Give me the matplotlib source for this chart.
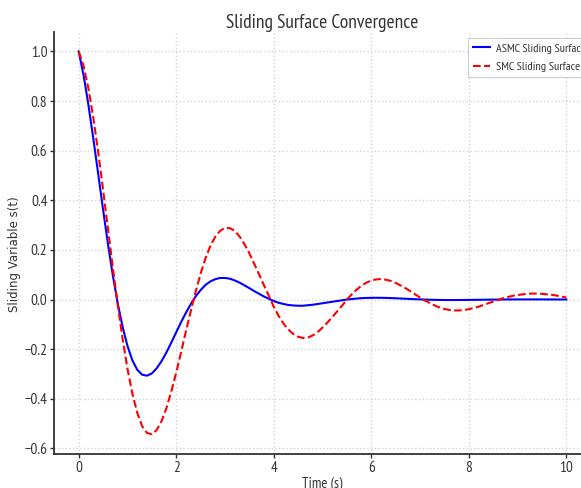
import matplotlib
matplotlib.use("Agg")
import matplotlib.pyplot as plt

# ---- data ----
time_s = [round(0.1 * i, 1) for i in range(101)]

asmc_surface = [
    1.000, 0.904, 0.784, 0.648, 0.506, 0.362, 0.224, 0.097, -0.015, -0.110,
    -0.187, -0.245, -0.283, -0.303, -0.307, -0.298, -0.277, -0.248, -0.213, -0.173,
    -0.132, -0.091, -0.053, -0.018, 0.013, 0.038, 0.059, 0.073, 0.082, 0.087,
    0.087, 0.084, 0.077, 0.068, 0.057, 0.046, 0.034, 0.023, 0.012, 0.003,
    -0.006, -0.013, -0.018, -0.022, -0.024, -0.025, -0.025, -0.023, -0.021, -0.018,
    -0.015, -0.012, -0.009, -0.006, -0.003, 0.000, 0.002, 0.004, 0.0055, 0.0064,
    0.0069, 0.0071, 0.0069, 0.0065, 0.0058, 0.0050, 0.0041, 0.0032, 0.0022, 0.0014,
    0.0005, -0.0002, -0.0008, -0.0013, -0.0017, -0.0019, -0.0020, -0.0020, -0.0019, -0.0018,
    -0.0016, -0.0014, -0.0011, -0.0008, -0.0005, -0.0003, 0.0000, 0.0001, 0.0003, 0.0004,
    0.0005, 0.0005, 0.0005, 0.0005, 0.0005, 0.0004, 0.0004, 0.0003, 0.0002, 0.0002,
    0.0001,
]

smc_surface = [
    1.000, 0.942, 0.850, 0.732, 0.594, 0.442, 0.285, 0.128, -0.021, -0.158,
    -0.279, -0.379, -0.456, -0.510, -0.538, -0.543, -0.526, -0.490, -0.437, -0.370,
    -0.294, -0.212, -0.127, -0.045, 0.033, 0.104, 0.166, 0.216, 0.253, 0.277,
    0.289, 0.288, 0.277, 0.254, 0.223, 0.186, 0.144, 0.101, 0.057, 0.015,
    -0.029, -0.066, -0.097, -0.121, -0.139, -0.150, -0.155, -0.153, -0.145, -0.131,
    -0.113, -0.093, -0.071, -0.048, -0.025, 0.000, 0.021, 0.040, 0.056, 0.068,
    0.077, 0.081, 0.083, 0.080, 0.075, 0.067, 0.057, 0.046, 0.034, 0.021,
    0.008, -0.004, -0.014, -0.024, -0.032, -0.038, -0.042, -0.044, -0.044, -0.042,
    -0.039, -0.034, -0.029, -0.022, -0.015, -0.008, -0.002, 0.005, 0.010, 0.015,
    0.018, 0.021, 0.023, 0.024, 0.024, 0.023, 0.021, 0.019, 0.016, 0.012,
    0.008,
]

series_labels = ["ASMC Sliding Surface", "SMC Sliding Surface"]
x_ticks = [0, 2, 4, 6, 8, 10]
y_ticks = [-0.6, -0.4, -0.2, 0.0, 0.2, 0.4, 0.6, 0.8, 1.0]

title_text = "Sliding Surface Convergence"
x_label = "Time (s)"
y_label = "Sliding Variable s(t)"

# ---- drawing ----
NARROW = ["PT Sans Narrow", "DejaVu Sans"]
DARK = "#333333"

fig = plt.figure(figsize=(5.81, 4.88), dpi=100)
ax = fig.add_axes([0.0935, 0.0703, 0.9232, 0.8641])

ax.plot(time_s, asmc_surface, color="blue", lw=1.5, label=series_labels[0], zorder=3)
ax.plot(time_s, smc_surface, color="red", lw=1.5, ls="--", label=series_labels[1], zorder=3)

ax.set_xlim(-0.5, 10.5)
ax.set_ylim(-0.6215, 1.0785)
ax.set_xticks(x_ticks)
ax.set_yticks(y_ticks)
ax.set_xticklabels([f"{v:d}" for v in x_ticks])
ax.set_yticklabels([f"{v:.1f}".replace("-", "\u2212") for v in y_ticks])

for lab in ax.get_xticklabels() + ax.get_yticklabels():
    lab.set_family(NARROW)
    lab.set_fontsize(11)
    lab.set_color(DARK)

ax.tick_params(axis="both", direction="out", length=3, width=1, color=DARK)
ax.tick_params(axis="y", pad=2)
ax.tick_params(axis="x", pad=2.5)

ax.grid(True, color="#d4d4d4", linestyle=":", linewidth=1.0)
ax.set_axisbelow(True)

for side in ("top", "right"):
    ax.spines[side].set_visible(False)
for side in ("left", "bottom"):
    ax.spines[side].set_color(DARK)
    ax.spines[side].set_linewidth(1.3)

ax.set_title(title_text, family=NARROW, fontsize=14, color=DARK, pad=1.5)
ax.set_xlabel(x_label, family=NARROW, fontsize=10.5, color=DARK, labelpad=1)
ax.set_ylabel(y_label, family="DejaVu Sans", fontsize=8.5, color=DARK)
ax.yaxis.set_label_coords(-0.0615, 0.4736)

leg = ax.legend(loc="upper left", bbox_to_anchor=(0.7718, 0.985), borderaxespad=0,
                prop={"family": NARROW, "size": 8.7},
                handlelength=1.4, handletextpad=0.5, borderpad=0.4,
                labelspacing=0.65, framealpha=1.0, fancybox=False,
                edgecolor="#cccccc")
leg.get_frame().set_linewidth(0.8)
for t in leg.get_texts():
    t.set_color(DARK)

fig.savefig("out.png", dpi=100)
